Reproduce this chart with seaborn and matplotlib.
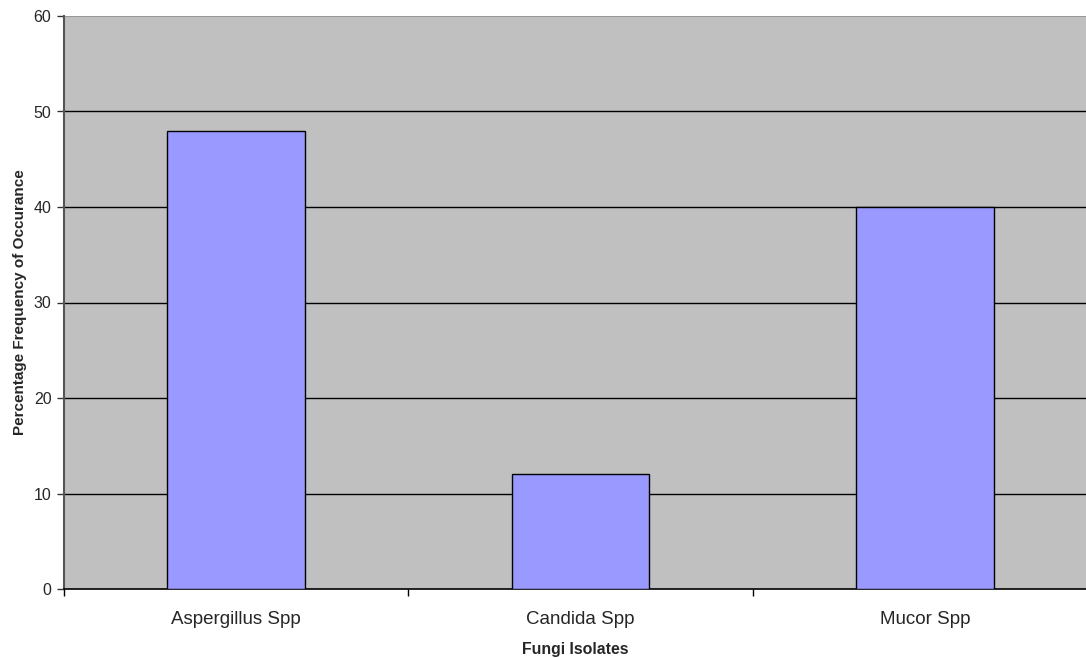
import matplotlib
matplotlib.use("Agg")
import matplotlib.pyplot as plt
import seaborn as sns
import pandas as pd

categories = ["Aspergillus Spp", "Candida Spp", "Mucor Spp"]
values = [48, 12, 40]
y_ticks = [0, 10, 20, 30, 40, 50, 60]

sns.set_style("white")
plt.rcParams["font.family"] = ["Liberation Sans", "DejaVu Sans"]

df = pd.DataFrame({"isolate": categories, "pct": values})

fig = plt.figure(figsize=(10.86, 6.58), dpi=100)
ax = fig.add_axes([64 / 1086, 69 / 658, 1 - 64 / 1086, (589 - 16) / 658])
ax.set_facecolor("#C0C0C0")

sns.barplot(data=df, x="isolate", y="pct", color="#9999FF", saturation=1,
            width=0.4, edgecolor="black", linewidth=1, ax=ax, zorder=3)

ax.set_ylim(0, 60)
ax.set_xlim(-0.5, 2.468)
ax.set_yticks(y_ticks)
ax.set_yticklabels([str(t) for t in y_ticks], fontsize=11.5)

# horizontal gridlines
for t in y_ticks[1:-1]:
    ax.axhline(t, color="black", linewidth=1, zorder=1)
ax.axhline(60, color="#999999", linewidth=1.5, zorder=1)

# category labels centred, ticks at category boundaries
ax.set_xticks(range(len(categories)))
ax.set_xticklabels(categories, fontsize=13.5)
ax.tick_params(axis="x", which="major", bottom=True, length=0, pad=16)
ax.set_xticks([-0.5, 0.5, 1.5], minor=True)
ax.tick_params(axis="x", which="minor", bottom=True, length=5, width=1,
               color="black", direction="out")
ax.tick_params(axis="y", which="major", left=True, length=5, width=1,
               color="#333333", direction="out", pad=4)

for side in ["top", "right"]:
    ax.spines[side].set_visible(False)
ax.spines["left"].set_color("#555555")
ax.spines["left"].set_linewidth(1.5)
ax.spines["bottom"].set_color("black")
ax.spines["bottom"].set_linewidth(1.2)

ax.set_xlabel("Fungi Isolates", fontsize=11.4, fontweight="bold", labelpad=10)
ax.set_ylabel("Percentage Frequency of Occurance", fontsize=11, fontweight="bold", labelpad=5)

fig.savefig("out.png", dpi=100)
